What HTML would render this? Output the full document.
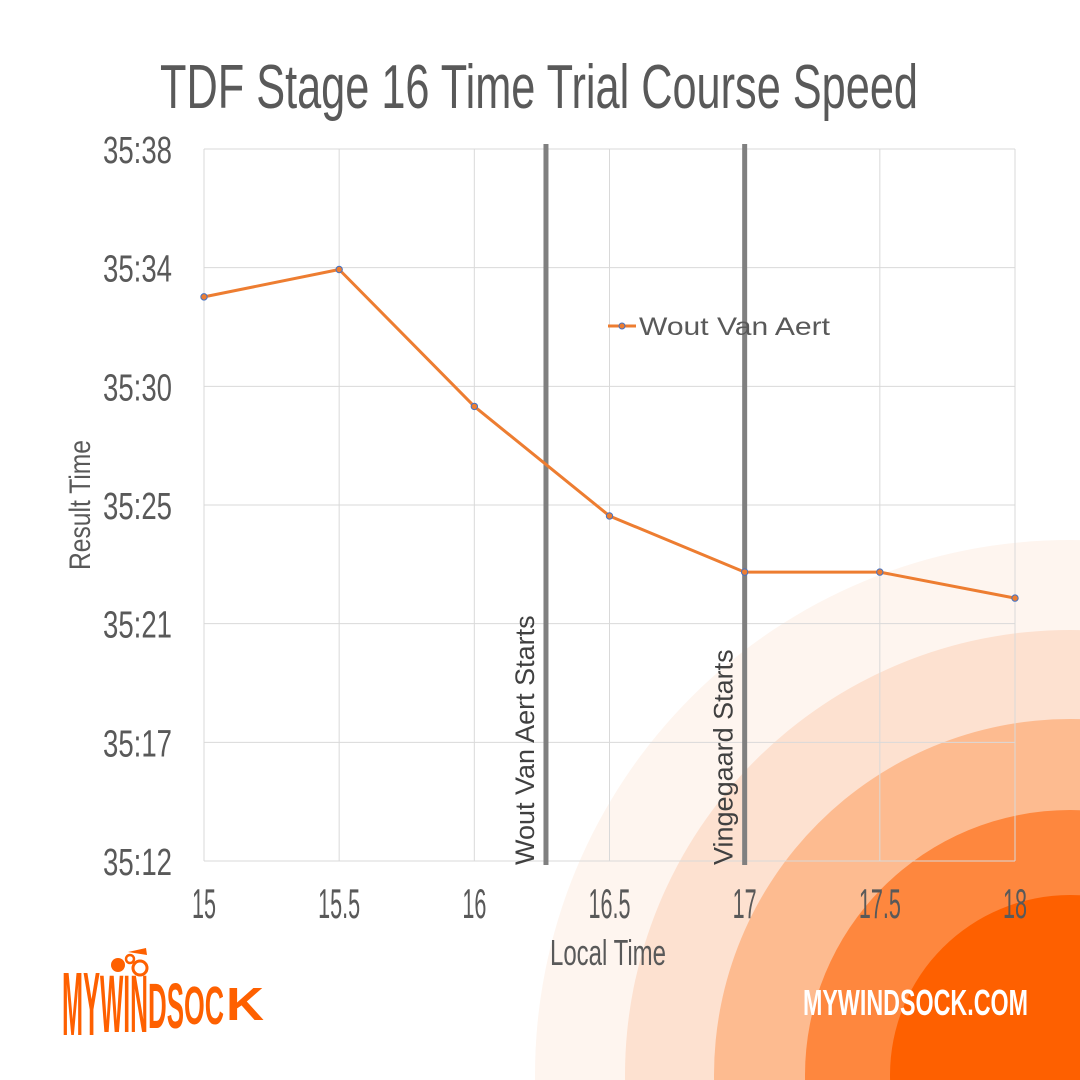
<!DOCTYPE html>
<html><head><meta charset="utf-8"><style>
html,body{margin:0;padding:0;background:#fff;width:1080px;height:1080px;overflow:hidden;}
svg{display:block;overflow:hidden;}
text{font-family:"Liberation Sans Narrow","Liberation Sans",sans-serif;}
</style></head><body>
<svg id="chart" width="1080" height="1080" viewBox="0 0 1080 1080">
<defs><clipPath id="frame"><rect x="0" y="0" width="1080" height="1080"/></clipPath></defs>
<g clip-path="url(#frame)">
<circle cx="1070" cy="1075" r="535" fill="#fef5ef"/>
<circle cx="1070" cy="1075" r="445" fill="#fde1d0"/>
<circle cx="1070" cy="1075" r="356" fill="#fdbb90"/>
<circle cx="1070" cy="1075" r="265" fill="#fe873e"/>
<circle cx="1070" cy="1075" r="180" fill="#fe6000"/>
</g>
<text x="539" y="108" font-size="62" fill="#595959" text-anchor="middle" textLength="758" lengthAdjust="spacingAndGlyphs">TDF Stage 16  Time Trial Course Speed</text>
<g id="grid"></g>
<g id="ylabels"></g>
<g id="xlabels"></g>
<g id="markers"></g>
<g id="series"></g>
<text transform="translate(90,505) rotate(-90)" font-size="30" fill="#595959" text-anchor="middle" textLength="130" lengthAdjust="spacingAndGlyphs">Result Time</text>
<text x="608" y="965" font-size="36" fill="#595959" text-anchor="middle" textLength="116" lengthAdjust="spacingAndGlyphs">Local Time</text>
<g>
<line x1="608" y1="326" x2="636" y2="326" stroke="#ed7d31" stroke-width="3"/>
<circle cx="622" cy="326" r="3" fill="#ed7d31" stroke="#4472c4" stroke-width="1"/>
<text x="639" y="335" style="font-family:'Liberation Sans',sans-serif" font-size="25" fill="#595959" textLength="191" lengthAdjust="spacingAndGlyphs">Wout Van Aert</text>
</g>
<g fill="#fe6000" font-weight="bold">
<circle cx="118" cy="965" r="7"/>
<circle cx="130" cy="959" r="4" fill="none" stroke="#fe6000" stroke-width="2.5"/>
<circle cx="140" cy="968" r="7" fill="none" stroke="#fe6000" stroke-width="3"/>
<path d="M128 952 L146 948 L147 955 Z"/>
<text x="62" y="1035" font-size="90" textLength="38" lengthAdjust="spacingAndGlyphs">MY</text>
<text x="100" y="1032" font-size="82" textLength="48" lengthAdjust="spacingAndGlyphs">WIN</text>
<text x="148" y="1028" font-size="64" textLength="36" lengthAdjust="spacingAndGlyphs">DS</text>
<text x="184" y="1024" font-size="54" textLength="40" lengthAdjust="spacingAndGlyphs">OC</text>
<text x="226" y="1020" font-size="46" textLength="38" lengthAdjust="spacingAndGlyphs">K</text>
</g>
<text x="803" y="1015" font-size="36" font-weight="bold" fill="#ffffff" textLength="225" lengthAdjust="spacingAndGlyphs">MYWINDSOCK.COM</text>
</svg>
<script>
const xCategories = [15, 15.5, 16, 16.5, 17, 17.5, 18];
const woutSeconds = [2132.6, 2133.6, 2128.6, 2124.6, 2122.55, 2122.55, 2121.6];
const yTickValues = [2112, 2116.33, 2120.67, 2125, 2129.33, 2133.67, 2138];
const yTickLabels = ["35:12", "35:17", "35:21", "35:25", "35:30", "35:34", "35:38"];
const xTickLabels = ["15", "15.5", "16", "16.5", "17", "17.5", "18"];
const markerX = [16.265, 17.0];
const markerLabels = ["Wout Van Aert Starts", "Vingegaard Starts"];

const NS = "http://www.w3.org/2000/svg";
const X0 = 204, X1 = 1015, Y0 = 861, Y1 = 149;
const xMin = 15, xMax = 18, yMin = 2112, yMax = 2138;
function xs(v){ return X0 + (v - xMin) / (xMax - xMin) * (X1 - X0); }
function ys(v){ return Y0 - (v - yMin) / (yMax - yMin) * (Y0 - Y1); }
function mk(tag, attrs, parent){ const e = document.createElementNS(NS, tag); for (const k in attrs) e.setAttribute(k, attrs[k]); parent.appendChild(e); return e; }

const grid = document.getElementById('grid');
yTickValues.forEach((v, i) => {
  const l = mk('line', {x1: X0, x2: X1, y1: ys(v), y2: ys(v), stroke: '#d9d9d9', 'stroke-width': 1}, grid);
  
  
  const t = mk('text', {x: 172, y: ys(v) + 14, 'font-size': 38, fill: '#595959', 'text-anchor': 'end', textLength: 69, lengthAdjust: 'spacingAndGlyphs'}, document.getElementById('ylabels'));
  t.textContent = yTickLabels[i];
  
  
});
xCategories.forEach((v, i) => {
  const l = mk('line', {x1: xs(v), x2: xs(v), y1: Y1, y2: Y0, stroke: '#d9d9d9', 'stroke-width': 1}, grid);
  
  
  const lab = xTickLabels[i];
  const w = lab.length > 2 ? 42 : 24;
  const t = mk('text', {x: xs(v), y: 918, 'font-size': 42, fill: '#595959', 'text-anchor': 'middle', textLength: w, lengthAdjust: 'spacingAndGlyphs'}, document.getElementById('xlabels'));
  t.textContent = lab;
  
  
});
const markers = document.getElementById('markers');
markerX.forEach((v, i) => {
  const l = mk('line', {x1: xs(v), x2: xs(v), y1: 144, y2: 865, stroke: '#808080', 'stroke-width': 5}, markers);
  
  
  const t = mk('text', {transform: 'translate(' + (xs(v) - 12) + ',865) rotate(-90)', 'font-size': 27, fill: '#404040', style: "font-family:'Liberation Sans',sans-serif"}, markers);
  t.textContent = markerLabels[i];
  
  
});
const series = document.getElementById('series');
const pts = xCategories.map((v, i) => xs(v) + ',' + ys(woutSeconds[i])).join(' ');
const pl = mk('polyline', {points: pts, fill: 'none', stroke: '#ed7d31', 'stroke-width': 3, 'stroke-linejoin': 'round'}, series);


xCategories.forEach((v, i) => {
  const c = mk('circle', {cx: xs(v), cy: ys(woutSeconds[i]), r: 3.2, fill: '#ed7d31', stroke: '#4472c4', 'stroke-width': 1}, series);
  
  
});
</script>
</body></html>
